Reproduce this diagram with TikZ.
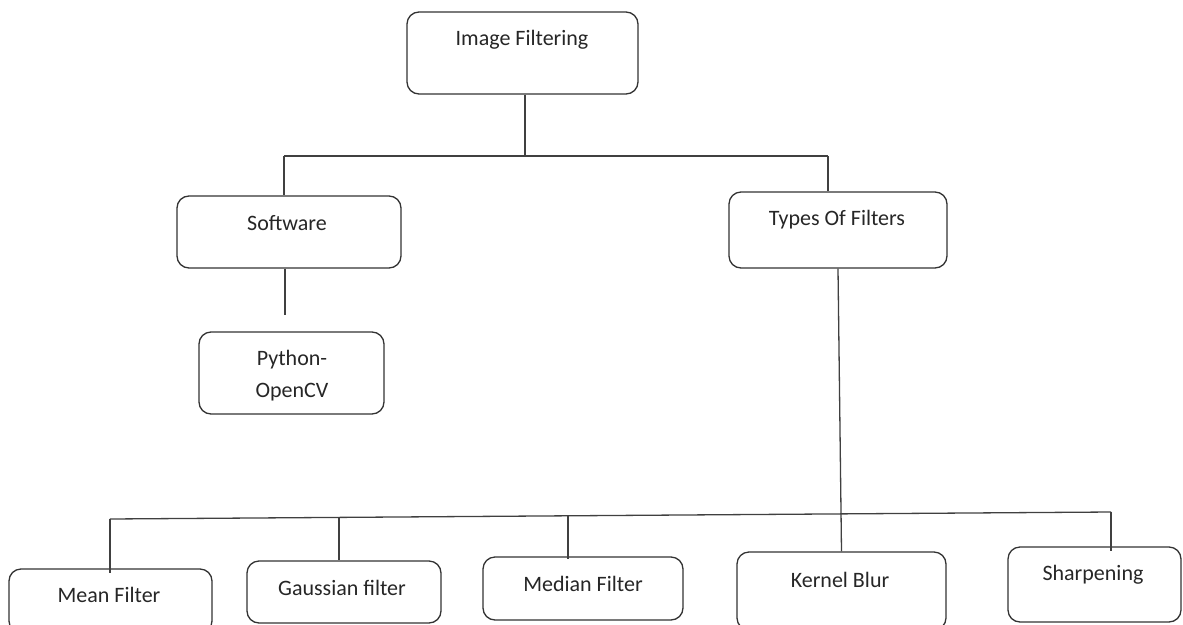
\documentclass[tikz,border=0pt]{standalone}
\usepackage{fontspec}
\setmainfont{Carlito}
\begin{document}
\begin{tikzpicture}[x=1pt,y=-1pt,
  box/.style={draw=black!80, line width=1.3pt, rounded corners=12pt, inner sep=0pt},
  lbl/.style={font=\fontsize{22}{32}\selectfont, text=black!85, align=center, inner sep=0pt},
  conn/.style={draw=black!75, line width=1.3pt}]
\useasboundingbox (0,0) rectangle (1183,624);
\clip (0,0) rectangle (1183,624);
% boxes
\node[box, minimum width=231pt, minimum height=82pt] (img) at (522.5,53) {};
\node[lbl] (imgt) at (522,40) {Image Filtering};
\node[box, minimum width=224pt, minimum height=72pt] (sw) at (289,232) {};
\node[lbl] (swt) at (287,223) {Software};
\node[box, minimum width=218pt, minimum height=76pt] (tf) at (838,230) {};
\node[lbl] (tft) at (837,220) {Types Of Filters};
\node[box, minimum width=185pt, minimum height=82pt] (py) at (291.5,373) {};
\node[lbl] (pyt) at (292,376) {Python-\\OpenCV};
\node[box, minimum width=203pt, minimum height=64pt] (mf) at (110.5,601) {};
\node[lbl] (mft) at (109,595) {Mean Filter};
\node[box, minimum width=194pt, minimum height=62pt] (gf) at (344,592) {};
\node[lbl] (gft) at (342,588) {Gaussian filter};
\node[box, minimum width=200pt, minimum height=63pt] (md) at (583,588.5) {};
\node[lbl] (mdt) at (583,584) {Median Filter};
\node[box, minimum width=209pt, minimum height=78pt] (kb) at (841.5,591) {};
\node[lbl] (kbt) at (840,580) {Kernel Blur};
\node[box, minimum width=173pt, minimum height=75pt] (sh) at (1094.5,584.5) {};
\node[lbl] (sht) at (1093,575) {Sharpening};
% junction coordinates
\coordinate (j1) at (525,156);
\coordinate (sl) at (284,156);
\coordinate (sr) at (828,156);
\coordinate (pyend) at (285,315);
\coordinate (bl) at (110,519);
\coordinate (br) at (1111,512);
\coordinate (bg) at (339,517.4);
\coordinate (bm) at (568,515.8);
% connectors
\draw[conn] (img.south -| j1) -- (j1);
\draw[conn] (sl) -- (sr);
\draw[conn] (sl) -- (sw.north -| sl);
\draw[conn] (sr) -- (tf.north -| sr);
\draw[conn] (sw.south -| pyend) -- (pyend);
\draw[conn] (tf.south) -- (kb.north);
\draw[conn] (bl) -- (br);
\draw[conn] (bl) -- ([yshift=-5pt]mf.north -| bl);
\draw[conn] (bg) -- (gf.north -| bg);
\draw[conn] (bm) -- ([yshift=-3pt]md.north -| bm);
\draw[conn] (br) -- ([yshift=-5pt]sh.north -| br);
\end{tikzpicture}
\end{document}
